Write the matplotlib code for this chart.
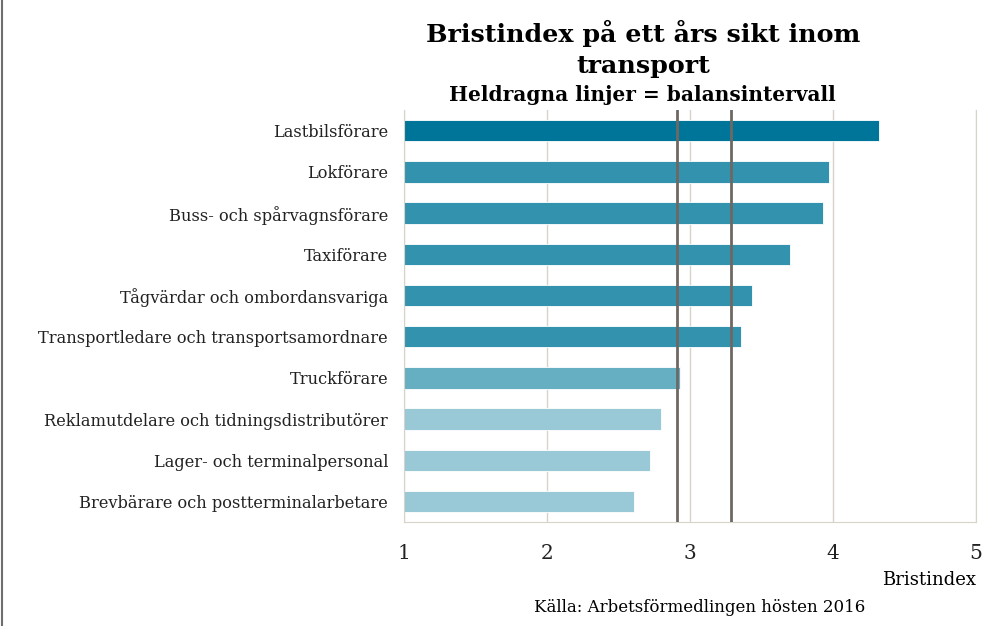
import matplotlib.pyplot as plt
from matplotlib.lines import Line2D

# --- DONNÉES ---
yrken = ['Lastbilsförare', 'Lokförare', 'Buss- och spårvagnsförare', 'Taxiförare',
         'Tågvärdar och ombordansvariga', 'Transportledare och transportsamordnare',
         'Truckförare', 'Reklamutdelare och tidningsdistributörer',
         'Lager- och terminalpersonal', 'Brevbärare och postterminalarbetare']
bristindex = [4.32, 3.97, 3.93, 3.70, 3.43, 3.36, 2.93, 2.80, 2.72, 2.61]
farger = ['#00759A', '#3393AE', '#3393AE', '#3393AE', '#3393AE', '#3393AE',
          '#66AEC2', '#99C8D6', '#99C8D6', '#99C8D6']
balans = [2.91, 3.29]
xticks = [1, 2, 3, 4, 5]

plt.rcParams['font.family'] = ['DejaVu Serif']

fig = plt.figure(figsize=(10.06, 6.26), dpi=100)
ax = fig.add_axes([0.4016, 0.166, 0.5686, 0.658])

pos = list(range(len(yrken)))
ax.barh(pos, [v - 1 for v in bristindex], left=1, height=0.52, color=farger,
        edgecolor='white', linewidth=0.6, zorder=2)

for b in balans:
    ax.axvline(b, color='#6E6862', linewidth=2, zorder=3)

ax.set_xlim(1, 5)
ax.set_ylim(len(yrken) - 0.5, -0.5)
ax.set_xticks(xticks)
ax.set_xticklabels([str(t) for t in xticks], fontsize=14.5)
ax.set_yticks(pos)
ax.set_yticklabels(yrken, fontsize=11.7)
ax.tick_params(axis='both', length=0, colors='#222222')
ax.tick_params(axis='x', pad=16)
ax.tick_params(axis='y', pad=11.5)
ax.grid(axis='x', color='#D8D3C8', linewidth=1, zorder=0)
for s in ['left', 'bottom', 'right']:
    ax.spines[s].set_color('#D8D3C8')
ax.spines['top'].set_visible(False)

fig.text(0.639, 0.946, 'Bristindex på ett års sikt inom', ha='center', va='center',
         fontsize=18.3, fontweight='bold')
fig.text(0.639, 0.895, 'transport', ha='center', va='center',
         fontsize=18.3, fontweight='bold')
fig.text(0.639, 0.848, 'Heldragna linjer = balansintervall', ha='center', va='center',
         fontsize=14.5, fontweight='bold')
fig.text(0.970, 0.073, 'Bristindex', ha='right', va='center', fontsize=13)
fig.text(0.695, 0.030, 'Källa: Arbetsförmedlingen hösten 2016', ha='center', va='center',
         fontsize=12)

# bordure gauche
fig.add_artist(Line2D([0.0015, 0.0015], [0, 1], transform=fig.transFigure,
                      color='#6E6E6E', linewidth=1.5))

fig.savefig('out.png', dpi=100)
